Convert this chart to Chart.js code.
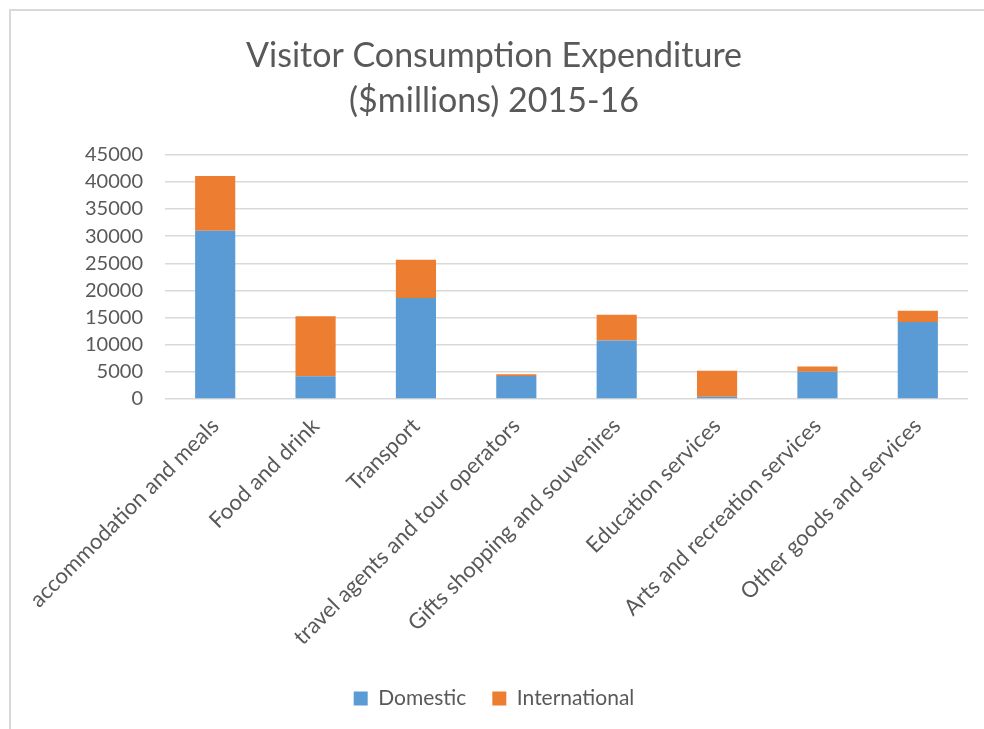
<!DOCTYPE html>
<html>
<head>
<meta charset="utf-8">
<script src="https://cdn.jsdelivr.net/npm/chart.js@4.4.1/dist/chart.umd.min.js"></script>
<style>
  html, body { margin: 0; padding: 0; background: #fff; overflow: hidden; }
  #frame { position: absolute; left: 9px; top: 9px; width: 1100px; height: 1000px; border: 2px solid #d9d9d9; box-sizing: border-box; }
  #wrap { position: absolute; left: 0; top: 0; width: 984px; height: 729px; }
</style>
</head>
<body>
<div id="frame"></div>
<div id="wrap"><canvas id="c" width="984" height="729"></canvas></div>
<script>
const categories = [
  "accommodation and meals",
  "Food and drink",
  "Transport",
  "travel agents and tour operators",
  "Gifts shopping and souvenires",
  "Education services",
  "Arts and recreation services",
  "Other goods and services"
];
const domestic = [31000, 4200, 18600, 4250, 10800, 400, 5000, 14200];
const international = [10100, 11050, 7050, 300, 4700, 4800, 1000, 2050];
const seriesNames = ["Domestic", "International"];
const titleLines = ["Visitor Consumption Expenditure", "($millions) 2015-16"];
const yMax = 45000;
const yStep = 5000;

const FONT = "Lato, 'Open Sans', sans-serif";
const TXT = "#595959";

new Chart(document.getElementById("c"), {
  type: "bar",
  data: {
    labels: categories,
    datasets: [
      { label: seriesNames[0], data: domestic, backgroundColor: "#5B9BD5", barPercentage: 0.4, categoryPercentage: 1.0 },
      { label: seriesNames[1], data: international, backgroundColor: "#ED7D31", barPercentage: 0.4, categoryPercentage: 1.0 }
    ]
  },
  options: {
    responsive: false,
    animation: false,
    layout: { padding: { left: 20, right: 16, top: 34, bottom: 10 } },
    plugins: {
      title: {
        display: true,
        text: titleLines,
        color: TXT,
        font: { family: FONT, size: 34, weight: "normal", lineHeight: 1.32 },
        padding: { top: 0, bottom: 31 }
      },
      legend: {
        position: "bottom",
        labels: {
          color: TXT,
          font: { family: FONT, size: 21 },
          boxWidth: 14,
          boxHeight: 14,
          padding: 26
        }
      },
      tooltip: { enabled: false }
    },
    scales: {
      x: {
        stacked: true,
        grid: { display: false },
        border: { display: false },
        ticks: {
          color: TXT,
          font: { family: FONT, size: 22 },
          minRotation: 45,
          maxRotation: 45,
          autoSkip: false,
          padding: 6
        },
        afterFit: (s) => { s.height = 263; }
      },
      y: {
        stacked: true,
        min: 0,
        max: yMax,
        grid: { color: "#d9d9d9", lineWidth: 1.5, drawTicks: false },
        border: { display: false },
        ticks: {
          stepSize: yStep,
          color: TXT,
          font: { family: FONT, size: 20 },
          padding: 22,
          callback: (v) => String(v)
        },
        afterFit: (s) => { s.width = 145; }
      }
    }
  }
});
</script>
</body>
</html>
